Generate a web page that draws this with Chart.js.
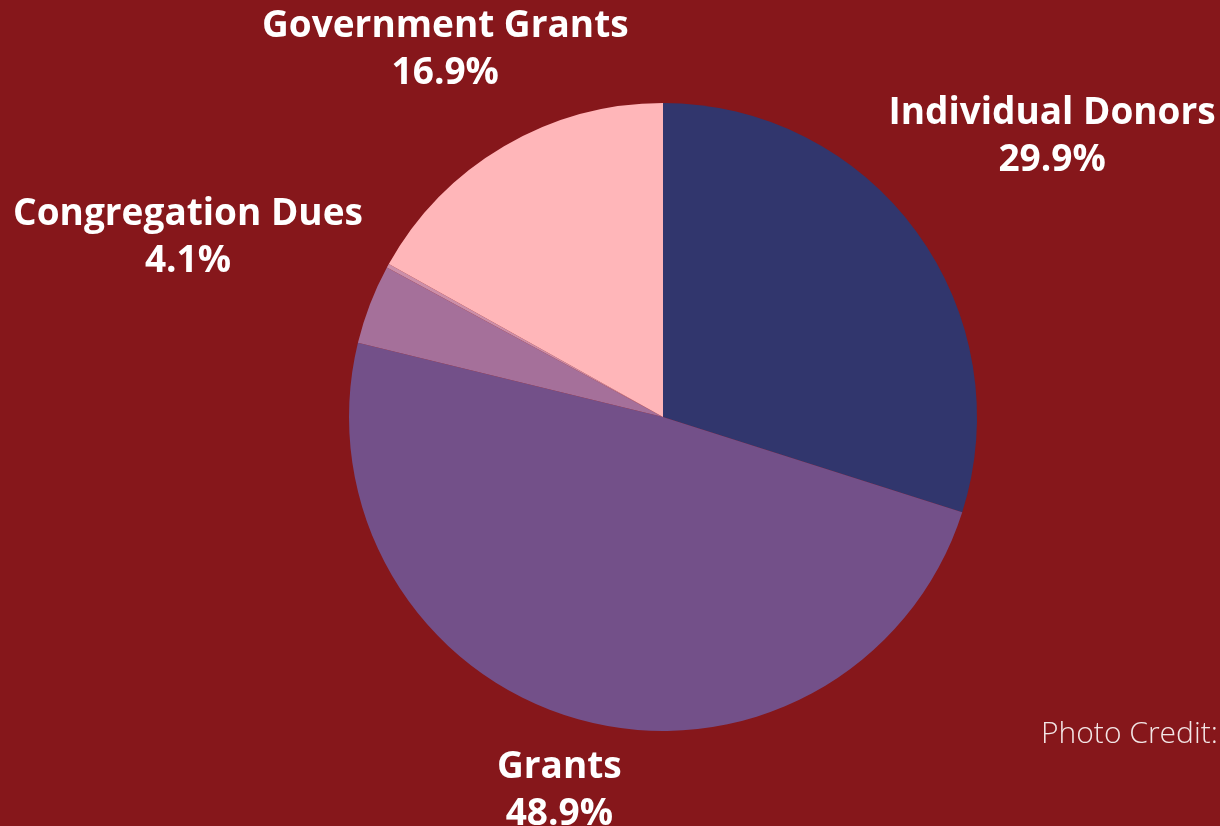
<!DOCTYPE html>
<html>
<head>
<meta charset="utf-8">
<script src="https://cdn.jsdelivr.net/npm/chart.js@4"></script>
<style>
  html, body { margin: 0; padding: 0; background: #86171b; overflow: hidden; }
  #wrap { position: relative; width: 1220px; height: 826px; }
  #credit {
    position: absolute; left: 1041px; top: 711px;
    font-family: "Open Sans", sans-serif; font-weight: 300; font-size: 30px;
    color: #f3e6e6; white-space: nowrap;
  }
</style>
</head>
<body>
<div id="wrap">
  <canvas id="chart" width="1220" height="826"></canvas>
  <div id="credit">Photo Credit:</div>
</div>
<script>
// Fontes de receita (%), sentido horário a partir do topo
const categorias = ['Individual Donors', 'Grants', 'Congregation Dues', 'Other', 'Government Grants'];
const valores = [29.9, 48.9, 4.1, 0.2, 16.9];
const mostrarRotulo = [true, true, true, false, true];
const cores = ['#31366d', '#735089', '#a5709a', '#cc8fa9', '#ffb6b9'];

// Rótulos fora da pizza, ao longo do ângulo médio da fatia
const rotulosExternos = {
    id: 'rotulosExternos',
    afterDraw(chart) {
        const ctx = chart.ctx;
        const meta = chart.getDatasetMeta(0);
        const fontSize = 37;
        const lineH = 47;
        const gap = 17;
        const ajusteY = 4;
        ctx.save();
        ctx.font = `bold ${fontSize}px "Open Sans"`;
        ctx.fillStyle = '#ffffff';
        ctx.textAlign = 'center';
        ctx.textBaseline = 'middle';
        meta.data.forEach((arc, i) => {
            if (!mostrarRotulo[i]) return;
            const { x, y, startAngle, endAngle, outerRadius } = arc.getProps(['x', 'y', 'startAngle', 'endAngle', 'outerRadius'], true);
            const mid = (startAngle + endAngle) / 2;
            const linhas = [categorias[i], valores[i].toFixed(1) + '%'];
            const w = Math.max(...linhas.map(l => ctx.measureText(l).width));
            const hw = w / 2, hh = lineH * linhas.length / 2 - 6;
            const alvo = outerRadius + gap;
            // afasta a caixa até o ponto mais próximo ficar a "alvo" do centro
            let d = outerRadius;
            for (; d < outerRadius * 3; d += 1) {
                const cx = x + Math.cos(mid) * d, cy = y + Math.sin(mid) * d;
                const nx = Math.max(cx - hw, Math.min(x, cx + hw));
                const ny = Math.max(cy - hh, Math.min(y, cy + hh));
                if (Math.hypot(nx - x, ny - y) >= alvo) break;
            }
            const cx = x + Math.cos(mid) * d, cy = y + Math.sin(mid) * d + ajusteY;
            linhas.forEach((l, k) => {
                ctx.fillText(l, cx, cy + (k - (linhas.length - 1) / 2) * lineH);
            });
        });
        ctx.restore();
    }
};

new Chart(document.getElementById('chart').getContext('2d'), {
    type: 'pie',
    data: {
        labels: categorias,
        datasets: [{
            data: valores,
            backgroundColor: cores,
            borderWidth: 0
        }]
    },
    options: {
        responsive: false,
        animation: false,
        layout: { padding: { top: 103, bottom: 95, left: 349, right: 243 } },
        plugins: { legend: { display: false }, tooltip: { enabled: false } }
    },
    plugins: [rotulosExternos]
});
</script>
</body>
</html>
